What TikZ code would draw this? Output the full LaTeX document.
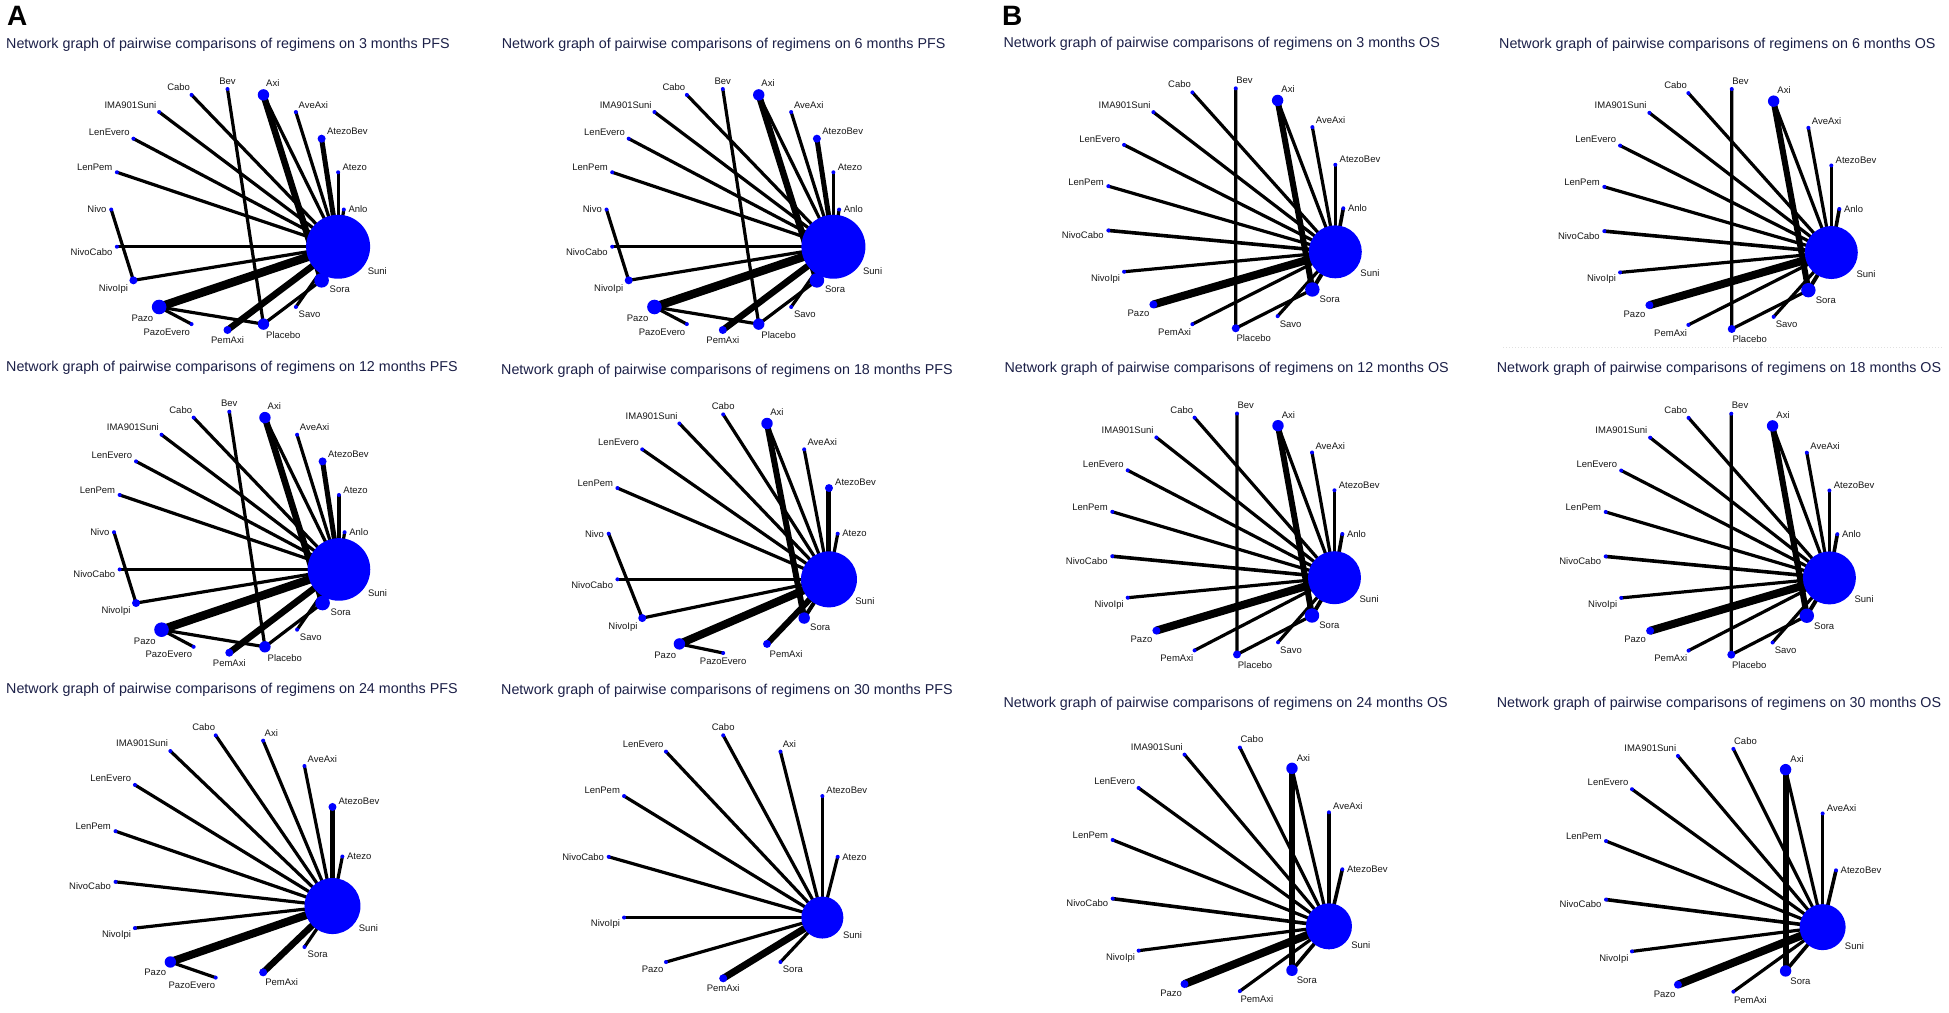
\documentclass[tikz,border=0pt]{standalone}
\usepackage{fontspec}
\setmainfont{Liberation Sans}
\pgfdeclarelayer{paper}
\pgfdeclarelayer{links}
\pgfsetlayers{paper,links,main}
\definecolor{ttlblue}{RGB}{28,32,72}
\definecolor{dotblue}{RGB}{0,0,255}
\tikzset{
  dot/.style={circle, fill=dotblue, draw=none, inner sep=0pt, outer sep=0pt},
  lbl/.style={font=\fontsize{9.5}{11}\selectfont, inner sep=0pt, text=black!90},
  ttl/.style={font=\fontsize{14.3}{16}\selectfont, text=ttlblue, anchor=base west, inner sep=0pt},
  panelletter/.style={font=\bfseries\fontsize{28}{30}\selectfont, anchor=base west, inner sep=0pt},
  lnk/.style={draw=black, line width=#1pt},
  artifact/.style={draw=black!12, line width=1pt, dotted},
}
\def\SuniName{Suni}
\newcommand\netpanel[7]{%
  \edef\curlist{#7}%
  \foreach \nm/\rr [count=\kk from 0] in \curlist {
    \pgfmathsetmacro\myang{\kk*360/#6}
    \pgfmathsetmacro\ndX{#2+#4*cos(\myang)}
    \pgfmathsetmacro\ndY{#3-#5*sin(\myang)}
    \node[dot, minimum size={2*\rr*1pt}] (#1-\nm) at (\ndX,\ndY) {};
    \edef\tmpname{\nm}
    \ifx\tmpname\SuniName \def\labang{325}\def\labgap{4}\else \let\labang\myang \def\labgap{2.5}\fi
    \pgfmathsetmacro\mycos{cos(\labang)}
    \pgfmathsetmacro\mysin{sin(\labang)}
    \pgfmathsetmacro\labX{\ndX+(\rr+\labgap)*\mycos}
    \pgfmathsetmacro\labY{\ndY-(\rr+\labgap)*\mysin}
    \def\ah{}\def\av{}
    \ifdim\mycos pt>0.02pt \def\ah{west}\fi
    \ifdim\mycos pt<-0.02pt \def\ah{east}\fi
    \ifdim\mysin pt>0.02pt \def\av{south}\fi
    \ifdim\mysin pt<-0.02pt \def\av{north}\fi
    \edef\myanc{\av\ifx\av\empty\else\ifx\ah\empty\else\space\fi\fi\ah}
    \ifx\myanc\empty\def\myanc{center}\fi
    \node[lbl, anchor=\myanc] (#1-\nm-lab) at (\labX,\labY) {\nm};
  }%
}
\newcommand\netedges[2]{%
  \edef\curedges{#2}%
  \foreach \ea/\eb/\ew in \curedges {\draw[lnk=\ew] (#1-\ea.center) -- (#1-\eb.center);}%
}
\def\ListA{Anlo/2, Atezo/2, AtezoBev/4, AveAxi/2, Axi/5.7, Bev/2, Cabo/2, IMA901Suni/2, LenEvero/2, LenPem/2, Nivo/2, NivoCabo/2, NivoIpi/4, Pazo/7.3, PazoEvero/2, PemAxi/4, Placebo/5.7, Savo/2, Sora/7.3, Suni/32}
\def\EdgeA{Anlo/Suni/3.2, Atezo/Suni/3.2, AtezoBev/Suni/5, AveAxi/Suni/3.2, Axi/Suni/3.2, Axi/Sora/6.5, Bev/Placebo/3.2, Cabo/Suni/3.2, IMA901Suni/Suni/3.2, LenEvero/Suni/3.2, LenPem/Suni/3.2, Nivo/NivoIpi/3.2, NivoCabo/Suni/3.2, NivoIpi/Suni/3.2, Pazo/Suni/8.5, Pazo/PazoEvero/3.2, Pazo/Placebo/3.2, PemAxi/Suni/6.5, Placebo/Sora/3.2, Savo/Suni/3.2, Sora/Suni/5}
\def\ListB{Anlo/2, AtezoBev/2, AveAxi/2, Axi/5.7, Bev/2, Cabo/2, IMA901Suni/2, LenEvero/2, LenPem/2, NivoCabo/2, NivoIpi/2, Pazo/4, PemAxi/2, Placebo/4, Savo/2, Sora/7.2, Suni/26.5}
\def\EdgeB{Anlo/Suni/3.6, AtezoBev/Suni/3.2, AveAxi/Suni/3.2, Axi/Suni/3.2, Axi/Sora/6, Bev/Placebo/3.2, Cabo/Suni/3.2, IMA901Suni/Suni/3.2, LenEvero/Suni/3.2, LenPem/Suni/3.2, NivoCabo/Suni/3.6, NivoIpi/Suni/3.2, Pazo/Suni/8, PemAxi/Suni/3.2, Placebo/Sora/3.2, Savo/Suni/3.2, Sora/Suni/4}
\def\ListC{AtezoBev/2, AveAxi/2, Axi/5.7, Cabo/2, IMA901Suni/2, LenEvero/2, LenPem/2, NivoCabo/2, NivoIpi/2, Pazo/4, PemAxi/2, Sora/5.7, Suni/23}
\def\EdgeC{AtezoBev/Suni/3.6, AveAxi/Suni/3.2, Axi/Suni/3.2, Axi/Sora/6, Cabo/Suni/3.2, IMA901Suni/Suni/3.2, LenEvero/Suni/3.2, LenPem/Suni/3.2, NivoCabo/Suni/3.6, NivoIpi/Suni/3.2, Pazo/Suni/8, PemAxi/Suni/3.2, Sora/Suni/3.6}
\begin{document}
\begin{tikzpicture}[x=1pt,y=-1pt]
\begin{pgfonlayer}{paper}
\fill[white] (0,0) rectangle (1949,1012);
\draw[artifact] (1503,347.7) -- (1943,347.7);
\end{pgfonlayer}
\useasboundingbox (0,0) rectangle (1949,1012);

\node[panelletter] (letA) at (7,25) {A};
\node[panelletter] (letB) at (1002,25) {B};

% titles
\node[ttl] (tA1) at (6,48.3) {Network graph of pairwise comparisons of regimens on 3 months PFS};
\node[ttl] (tA2) at (501.7,48.3) {Network graph of pairwise comparisons of regimens on 6 months PFS};
\node[ttl] (tB1) at (1003.3,47.7) {Network graph of pairwise comparisons of regimens on 3 months OS};
\node[ttl] (tB2) at (1499,48.3) {Network graph of pairwise comparisons of regimens on 6 months OS};
\node[ttl] (tA3) at (6,371.7) {Network graph of pairwise comparisons of regimens on 12 months PFS};
\node[ttl] (tA4) at (501,374.3) {Network graph of pairwise comparisons of regimens on 18 months PFS};
\node[ttl] (tB3) at (1004.3,372) {Network graph of pairwise comparisons of regimens on 12 months OS};
\node[ttl] (tB4) at (1496.7,372.7) {Network graph of pairwise comparisons of regimens on 18 months OS};
\node[ttl] (tA5) at (6,693.3) {Network graph of pairwise comparisons of regimens on 24 months PFS};
\node[ttl] (tA6) at (501,694.3) {Network graph of pairwise comparisons of regimens on 30 months PFS};
\node[ttl] (tB5) at (1003.3,707) {Network graph of pairwise comparisons of regimens on 24 months OS};
\node[ttl] (tB6) at (1496.7,707.7) {Network graph of pairwise comparisons of regimens on 30 months OS};

% panels (nodes)
\netpanel{A1}{227.5}{209.5}{116.3}{120.5}{20}{\ListA}
\netpanel{A2}{722.8}{209.5}{116.3}{120.5}{20}{\ListA}
\netpanel{A3}{229.3}{532.2}{115.3}{120.5}{20}{Anlo/2, Atezo/2, AtezoBev/4, AveAxi/2, Axi/5.7, Bev/2, Cabo/2, IMA901Suni/2, LenEvero/2, LenPem/2, Nivo/2, NivoCabo/2, NivoIpi/4, Pazo/7.3, PazoEvero/2, PemAxi/4, Placebo/5.7, Savo/2, Sora/7.3, Suni/31.3}
\netpanel{A4}{723.2}{533.7}{114.5}{119.3}{16}{Atezo/2, AtezoBev/4, AveAxi/2, Axi/5.7, Cabo/2, IMA901Suni/2, LenEvero/2, LenPem/2, Nivo/2, NivoCabo/2, NivoIpi/4, Pazo/5.7, PazoEvero/2, PemAxi/4, Sora/5.7, Suni/28}
\netpanel{A5}{227.7}{856.5}{114.7}{121.8}{15}{Atezo/2, AtezoBev/4, AveAxi/2, Axi/2, Cabo/2, IMA901Suni/2, LenEvero/2, LenPem/2, NivoCabo/2, NivoIpi/2, Pazo/5.7, PazoEvero/2, PemAxi/4, Sora/2, Suni/28}
\netpanel{A6}{723.2}{856.8}{114.5}{121.5}{12}{Atezo/2, AtezoBev/2, Axi/2, Cabo/2, LenEvero/2, LenPem/2, NivoCabo/2, NivoIpi/2, Pazo/2, PemAxi/4, Sora/2, Suni/21}
\netpanel{B1}{1224.8}{208.3}{118.5}{120.5}{17}{\ListB}
\netpanel{B2}{1720.8}{209.0}{118.5}{120.5}{17}{\ListB}
\netpanel{B3}{1226.3}{534.0}{116.0}{121.0}{17}{\ListB}
\netpanel{B4}{1720.5}{534.2}{116.8}{121.0}{17}{\ListB}
\netpanel{B5}{1225.8}{869.3}{116.5}{122.7}{13}{\ListC}
\netpanel{B6}{1719.3}{870.3}{116.7}{122.3}{13}{\ListC}

% edges
\begin{pgfonlayer}{links}
\netedges{A1}{\EdgeA}
\netedges{A2}{\EdgeA}
\netedges{A3}{\EdgeA}
\netedges{A4}{Atezo/Suni/3.2, AtezoBev/Suni/5, AveAxi/Suni/3.2, Axi/Suni/3.2, Axi/Sora/6, Cabo/Suni/3.2, IMA901Suni/Suni/3.2, LenEvero/Suni/3.2, LenPem/Suni/3.2, Nivo/NivoIpi/3.2, NivoCabo/Suni/3.2, NivoIpi/Suni/3.2, Pazo/Suni/8, Pazo/PazoEvero/3.2, PemAxi/Suni/6, Sora/Suni/4}
\netedges{A5}{Atezo/Suni/3.2, AtezoBev/Suni/5, AveAxi/Suni/3.2, Axi/Suni/3.2, Cabo/Suni/3.2, IMA901Suni/Suni/3.2, LenEvero/Suni/3.2, LenPem/Suni/3.2, NivoCabo/Suni/3.2, NivoIpi/Suni/3.2, Pazo/Suni/8, Pazo/PazoEvero/3.2, PemAxi/Suni/6.5, Sora/Suni/3.2}
\netedges{A6}{Atezo/Suni/3.2, AtezoBev/Suni/3.2, Axi/Suni/3.2, Cabo/Suni/3.2, LenEvero/Suni/3.2, LenPem/Suni/3.2, NivoCabo/Suni/3.2, NivoIpi/Suni/3.2, Pazo/Suni/3.2, PemAxi/Suni/7, Sora/Suni/3.2}
\netedges{B1}{\EdgeB}
\netedges{B2}{\EdgeB}
\netedges{B3}{\EdgeB}
\netedges{B4}{\EdgeB}
\netedges{B5}{\EdgeC}
\netedges{B6}{\EdgeC}
\end{pgfonlayer}
\end{tikzpicture}
\end{document}
